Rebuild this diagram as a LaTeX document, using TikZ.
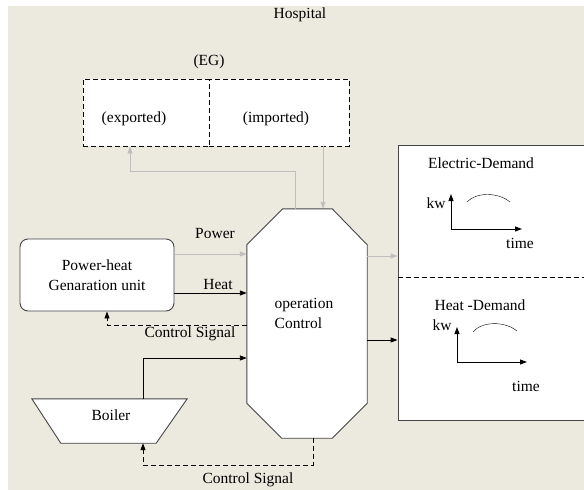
\documentclass[tikz,border=0pt]{standalone}
\usepackage{fontspec}
\setmainfont{Liberation Serif}
\usepackage{xcolor}
\usetikzlibrary{arrows.meta}
\usetikzlibrary{positioning}

\definecolor{bgbeige}{RGB}{236,233,223}
\definecolor{linegrey}{RGB}{70,70,70}
\definecolor{flowgrey}{RGB}{190,190,190}

\tikzset{
  blk/.style={draw=linegrey, line width=0.9pt, fill=white},
  flow/.style={-{Triangle[length=7pt,width=5pt]}, line width=0.9pt},
  sig/.style={flow, dash pattern=on 5pt off 3pt},
}

\begin{document}
\begin{tikzpicture}[x=1pt, y=-1pt, font=\fontsize{15.5}{20}\selectfont]
\useasboundingbox (0,0) rectangle (584,490);
\fill[bgbeige] (8,6) rectangle (584,490);

            \draw (300,15) node (hosp) {Hospital};
            \draw (209,62) node (eg) {(EG)};
            \draw (146,112.5) node[blk, draw=black, dash pattern=on 5pt off 3pt, minimum width=126pt, minimum height=67pt] (egexp) {};
            \draw (279,112.5) node[blk, draw=black, dash pattern=on 5pt off 3pt, minimum width=140pt, minimum height=67pt] (egimp) {};
            \draw (134,119) node (exptxt) {(exported)};
            \draw (276,119) node (imptxt) {(imported)};

            \draw (97,275) node[blk, rounded corners=8pt, minimum width=154pt, minimum height=72pt, align=center] (phg) {Power-heat\\Genaration unit};

            \draw (307,323.5) node[minimum width=120pt, minimum height=229pt] (ctrl) {};
            \draw[blk] ([xshift=36pt]ctrl.north west) -- ([xshift=-35pt]ctrl.north east) -- ([yshift=-36pt]ctrl.north east)
                -- ([yshift=35pt]ctrl.south east) -- ([xshift=-35pt]ctrl.south east) -- ([xshift=35pt]ctrl.south west)
                -- ([yshift=35pt]ctrl.south west) -- ([yshift=-36pt]ctrl.north west) -- cycle;
            \draw (304,313) node[align=left] (ctrltxt) {operation\\Control};

            \draw (109.5,421) node[minimum width=155pt, minimum height=44pt] (boiler) {};
            \draw[blk] (boiler.north west) -- (boiler.north east) -- ([xshift=-31pt]boiler.south east)
                -- ([xshift=29pt]boiler.south west) -- cycle;
            \draw (111,415) node (boilertxt) {Boiler};

            \draw (494,282.5) node[blk, minimum width=192pt, minimum height=275pt] (demand) {};
            \draw[line width=0.9pt, dash pattern=on 5pt off 3pt] ([yshift=5.5pt]demand.west) -- ([yshift=5.5pt]demand.east);

            \draw[flow, flowgrey] ([xshift=-12pt]ctrl.north) -- ++(0,-37) -| ([xshift=-16pt]egexp.south);
            \draw[flow, flowgrey] ([xshift=44pt]egimp.south) -- ([xshift=44pt]egimp.south |- ctrl.north);
            \draw[flow, flowgrey] ([yshift=21pt]phg.east) -- ([yshift=21pt]phg.east -| ctrl.west);
            \draw[flow] ([yshift=-18pt]phg.east) -- ([yshift=-18pt]phg.east -| ctrl.west);
            \draw[sig] ([yshift=-1.5pt]ctrl.west) -| ([xshift=10pt]phg.south);
            \draw[flow] ([xshift=33.5pt]boiler.north) |- ([yshift=-34.5pt]ctrl.west);
            \draw[sig] ([xshift=6pt]ctrl.south) -- ++(0,27) -| ([xshift=33.5pt]boiler.south);
            \draw[flow, flowgrey] ([yshift=67.5pt]ctrl.east) -- ([yshift=67.5pt]ctrl.east -| demand.west);
            \draw[flow] ([yshift=-16.5pt]ctrl.east) -- ([yshift=-16.5pt]ctrl.east -| demand.west);

            \draw (215,233) node (powtxt) {Power};
            \draw (218,284) node (heattxt) {Heat};
            \draw (190,334) node (sigtxt) {Control Signal};
            \draw (248,480) node (sigtxtb) {Control Signal};

            \draw (481,163) node (elecd) {Electric-Demand};
            \draw (436,203) node (kwe) {kw};
            \draw (520,243) node (timee) {time};
            \coordinate (eo) at (451,229);
            \draw[flow] (eo) -- ++(0,-35);
            \draw[flow] (eo) -- ++(71,0);
            \draw (467,202) .. controls (476,192) and (498,192) .. (510,202);

            \draw (480,305) node (heatd) {Heat -Demand};
            \draw (442,325) node (kwh) {kw};
            \draw (526,386) node (timeh) {time};
            \coordinate (ho) at (457,362);
            \draw[flow] (ho) -- ++(0,-35);
            \draw[flow] (ho) -- ++(70,0);
            \draw (473,332) .. controls (482,321) and (505,321) .. (517,331);

            \end{tikzpicture}
\end{document}
